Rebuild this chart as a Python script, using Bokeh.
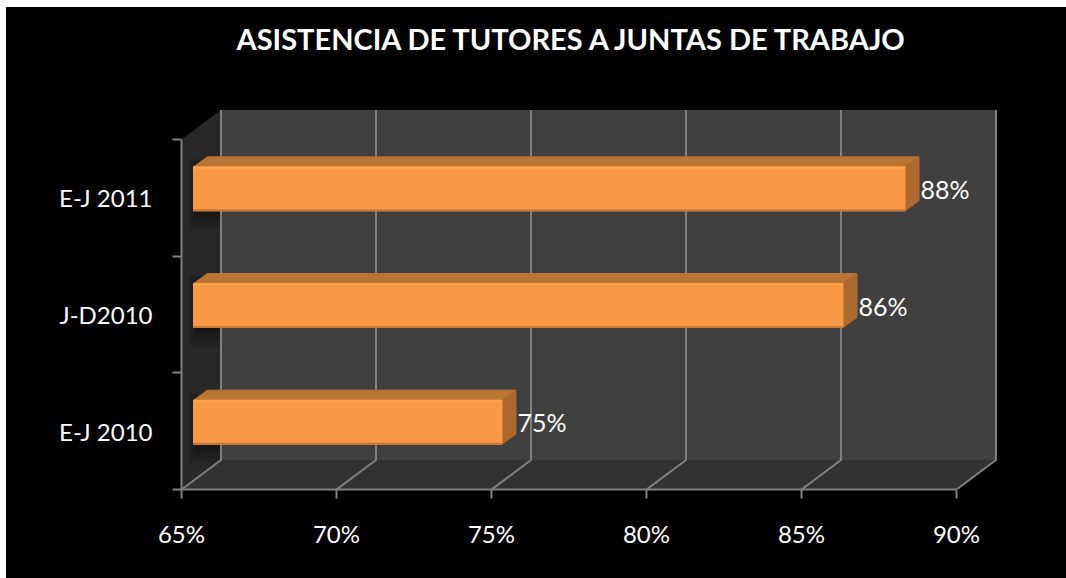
from bokeh.plotting import figure
from bokeh.models import Range1d, FixedTicker, ColumnDataSource, Title
from bokeh.embed import file_html
from bokeh.resources import INLINE
from bokeh.core.properties import value

title = "ASISTENCIA DE TUTORES A JUNTAS DE TRABAJO"
categories = ["E-J 2010", "J-D2010", "E-J 2011"]
values = [75, 86, 88]
bar_labels = ["75%", "86%", "88%"]
x_ticks = [65, 70, 75, 80, 85, 90]
x_tick_labels = ["65%", "70%", "75%", "80%", "85%", "90%"]

FONT = "Lato"
W, H = 1060, 571
PX_X = 31.0          # pixels per percentage point
PX_Y = 350 / 3       # pixels per category band
L, R, T, B = 175, 66, 93, 89
xmin, xmax = x_ticks[0], x_ticks[-1]
n = len(categories)
x_end = xmin + (W - L - R) / PX_X
y_end = (H - T - B) / PX_Y

# black comes from the element's own background: a filled border/frame leaves a hairline in SVG
p = figure(width=W, height=H, output_backend="svg", toolbar_location=None,
           x_range=Range1d(xmin, x_end),
           y_range=Range1d(0, y_end),
           min_border_left=L, min_border_right=R, min_border_top=T, min_border_bottom=B,
           background_fill_color=None, border_fill_color=None,
           margin=(7, 0, 0, 6), styles={"background-color": "#000000"})
p.outline_line_color = None
p.grid.visible = False

dx = lambda px: px / PX_X
dy = lambda px: px / PX_Y

# 3D box walls
DX, DY = dx(39.5), dy(29.5)
top = n + DY
p.patch([xmin, xmin + DX, xmin + DX, xmin], [0, DY, top, n], color="#282828", line_width=0)
p.quad(left=xmin + DX, right=xmax + DX, bottom=DY, top=top, color="#404040", line_width=0)
p.patch([xmin, xmin + DX, xmax + DX, xmax], [0, DY, DY, 0], color="#323232", line_width=0)

# soft shadows thrown on the side wall by the bars (layered to look blurred)
for i in range(n):
    for k in range(8):
        grow = 20 - k * 2.5
        p.quad(left=xmin + dx(8 + k), right=xmin + DX - dx(1),
               bottom=i + .5 - dy(13 + grow), top=i + .5 + dy(31 + grow * .4),
               color="#000000", alpha=.06, line_width=0)

# gridlines: back wall + floor
GRID = "#808080"
for t in x_ticks:
    p.line([t, t + DX, t + DX], [0, DY, top], line_color=GRID, line_width=2)

# bars
BX0 = dx(12)              # bar front starts here from the side wall
BEND = dx(10.5)           # bar end sits this far along the depth-shifted scale
BDX, BDY = dx(14), dy(10) # bar depth
HALF = dy(22)
SHIFT = dy(9)
for i, v in enumerate(values):
    c = i + .5 + SHIFT
    x0, x1 = xmin + BX0, v + BEND
    b, t = c - HALF, c + HALF
    p.patch([x0, x0 + BDX, x1 + BDX, x1], [t, t + BDY, t + BDY, t],
            fill_color="#BA7433", line_color="#BA7433", line_width=1, line_join="round")
    p.patch([x1, x1 + BDX, x1 + BDX, x1], [b, b + BDY, t + BDY, t],
            fill_color="#AD6A2E", line_color="#AD6A2E", line_width=1, line_join="round")
    p.quad(left=x0, right=x1, bottom=b, top=t, fill_color="#F99845", line_color="#F99845", line_width=1)
    p.line([x0, x1], [t - dy(1), t - dy(1)], line_color="#FFA64D", line_width=2)
    p.line([x0, x1], [b + dy(.5), b + dy(.5)], line_color="#C47A38", line_width=2)

# value labels
src = ColumnDataSource(dict(x=values, y=[i + .5 for i in range(n)], t=bar_labels))
p.text("x", "y", text="t", source=src, text_color="#FFFFFF", text_font=value(FONT),
       text_font_size="25px", text_align="left", text_baseline="middle",
       x_offset=26, y_offset=-9)

# axes
xa = p.xaxis[0]
xa.ticker = FixedTicker(ticks=x_ticks)
xa.major_label_overrides = dict(zip(x_ticks, x_tick_labels))
xa.bounds = (xmin, xmax)
xa.axis_line_color = GRID
xa.axis_line_width = 2
xa.major_tick_line_color = GRID
xa.major_tick_line_width = 2
xa.major_tick_out = 9
xa.major_tick_in = 0
xa.minor_tick_line_color = None
xa.major_label_text_color = "#FFFFFF"
xa.major_label_text_font = FONT
xa.major_label_text_font_size = "24px"
xa.major_label_standoff = 20

ya = p.yaxis[0]
centers = [i + .5 for i in range(n)]
ya.ticker = FixedTicker(ticks=centers, minor_ticks=list(range(n + 1)))
ya.major_label_overrides = dict(zip(centers, categories))
ya.bounds = (0, n)
ya.axis_line_color = GRID
ya.axis_line_width = 2
ya.major_tick_line_color = None
ya.major_tick_out = 0
ya.major_tick_in = 0
ya.minor_tick_line_color = GRID
ya.minor_tick_line_width = 2
ya.minor_tick_out = 9
ya.minor_tick_in = 0
ya.major_label_text_color = "#FFFFFF"
ya.major_label_text_font = FONT
ya.major_label_text_font_size = "24px"
ya.major_label_standoff = 20

p.title.text = title
p.title.text_color = "#FFFFFF"
p.title.text_font = FONT
p.title.text_font_style = "bold"
p.title.text_font_size = "29px"
p.title.align = "left"
p.title.offset = 55
p.title.standoff = 10
p.add_layout(Title(text=" ", text_font_size="34px", standoff=0), "above")

open("out.html", "w").write(file_html(p, INLINE))
